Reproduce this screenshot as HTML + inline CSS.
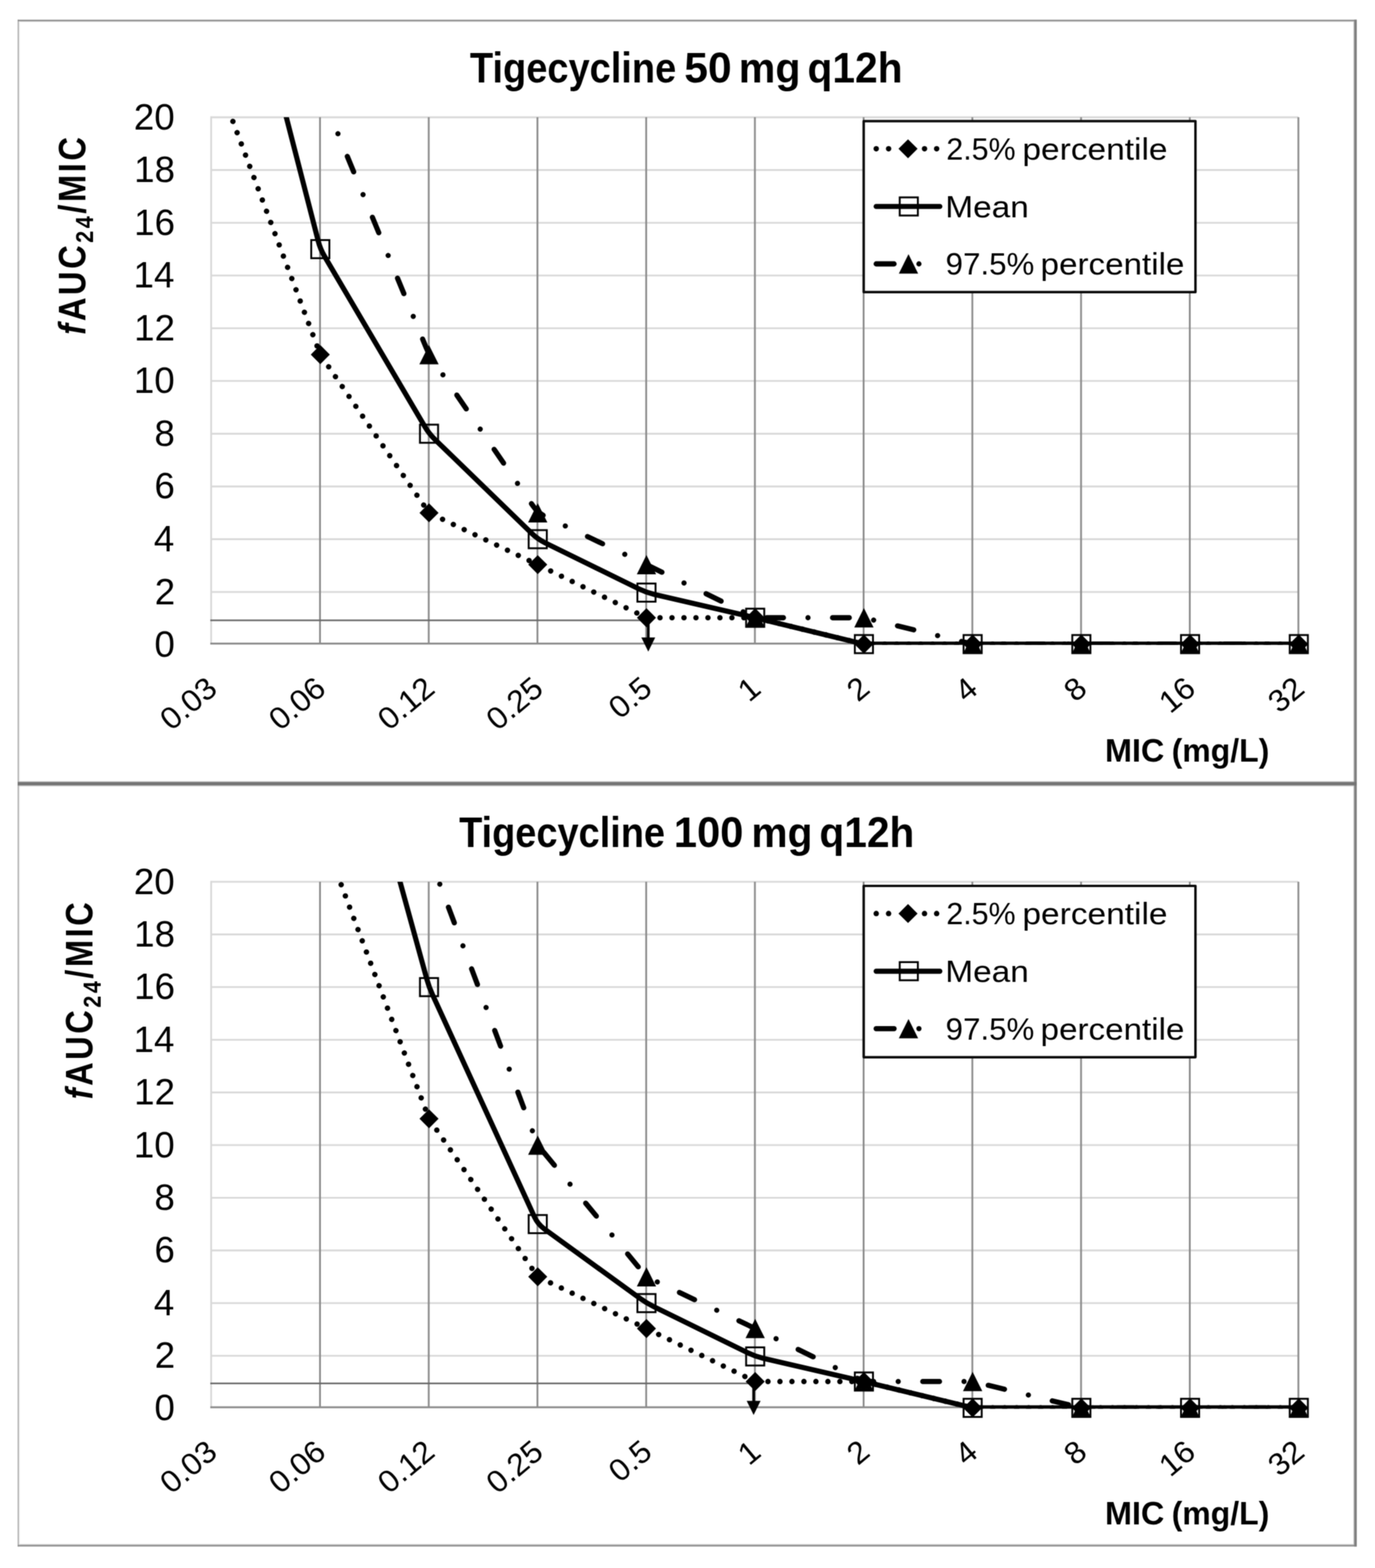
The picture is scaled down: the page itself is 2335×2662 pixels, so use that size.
<!DOCTYPE html>
<html lang="en"><head><meta charset="utf-8"><title>Tigecycline fAUC24/MIC</title>
<style>html,body{margin:0;padding:0;background:#ffffff;}svg{display:block;}</style></head>
<body><svg width="2335" height="2662" viewBox="0 0 2335 2662">
<defs><filter id="soft" x="0" y="0" width="2335" height="2662" filterUnits="userSpaceOnUse" color-interpolation-filters="sRGB"><feConvolveMatrix order="3" kernelMatrix="1 2 1 2 4 2 1 2 1" divisor="16" edgeMode="duplicate" preserveAlpha="true"/></filter></defs><g filter="url(#soft)">
<rect x="0" y="0" width="2335" height="2662" fill="#ffffff"/>
<g fill="none">
<rect x="30" y="33.5" width="2274" height="2592" fill="#fff"/>
<line x1="30" y1="36.5" x2="2300" y2="36.5" stroke="#d4d4d4" stroke-width="1.6"/>
<line x1="30" y1="2622.1" x2="2300" y2="2622.1" stroke="#d4d4d4" stroke-width="1.8"/>
<line x1="32.9" y1="36" x2="32.9" y2="2623" stroke="#ededed" stroke-width="1.4"/>
<line x1="2298.8" y1="36" x2="2298.8" y2="2623" stroke="#dcdcdc" stroke-width="1.6"/>
<line x1="32" y1="1326.9" x2="2300" y2="1326.9" stroke="#d6d6d6" stroke-width="1.6"/>
<line x1="32" y1="1334.4" x2="2300" y2="1334.4" stroke="#d6d6d6" stroke-width="1.6"/>
<line x1="31" y1="33.5" x2="31" y2="2625.5" stroke="#b0b0b0" stroke-width="2.2"/>
<line x1="30" y1="34.8" x2="2304" y2="34.8" stroke="#8e8e8e" stroke-width="2.6"/>
<line x1="30" y1="2624.2" x2="2304" y2="2624.2" stroke="#8e8e8e" stroke-width="2.8"/>
<line x1="2301.8" y1="33.5" x2="2301.8" y2="2625.5" stroke="#808080" stroke-width="4.6"/>
<line x1="30" y1="1330.6" x2="2304" y2="1330.6" stroke="#747474" stroke-width="6"/>
</g>
<g id="chart1">
<g stroke="#d9d9d9" stroke-width="3.1">
<line x1="358.6" y1="1004.95" x2="2204.9" y2="1004.95"/>
<line x1="358.6" y1="915.41" x2="2204.9" y2="915.41"/>
<line x1="358.6" y1="825.87" x2="2204.9" y2="825.87"/>
<line x1="358.6" y1="736.33" x2="2204.9" y2="736.33"/>
<line x1="358.6" y1="646.79" x2="2204.9" y2="646.79"/>
<line x1="358.6" y1="557.26" x2="2204.9" y2="557.26"/>
<line x1="358.6" y1="467.72" x2="2204.9" y2="467.72"/>
<line x1="358.6" y1="378.18" x2="2204.9" y2="378.18"/>
<line x1="358.6" y1="288.64" x2="2204.9" y2="288.64"/>
<line x1="358.6" y1="199.1" x2="2204.9" y2="199.1"/>
<line x1="358.6" y1="197.6" x2="358.6" y2="1094.1"/>
</g>
<g stroke="#8c8c8c" stroke-width="3.1">
<line x1="543.43" y1="199.1" x2="543.43" y2="1092.6"/>
<line x1="728.06" y1="199.1" x2="728.06" y2="1092.6"/>
<line x1="912.69" y1="199.1" x2="912.69" y2="1092.6"/>
<line x1="1097.32" y1="199.1" x2="1097.32" y2="1092.6"/>
<line x1="1281.95" y1="199.1" x2="1281.95" y2="1092.6"/>
<line x1="1466.58" y1="199.1" x2="1466.58" y2="1092.6"/>
<line x1="1651.21" y1="199.1" x2="1651.21" y2="1092.6"/>
<line x1="1835.84" y1="199.1" x2="1835.84" y2="1092.6"/>
<line x1="2020.47" y1="199.1" x2="2020.47" y2="1092.6"/>
<line x1="2204.9" y1="199.1" x2="2204.9" y2="1092.6"/>
</g>
<line x1="357.1" y1="1092.6" x2="2206.4" y2="1092.6" stroke="#8c8c8c" stroke-width="3.1"/>
<line x1="357.1" y1="1053.1" x2="1098" y2="1053.1" stroke="#686868" stroke-width="2.6"/>
<clipPath id="clip1"><rect x="358.6" y="199.1" width="1846.3" height="895.69"/></clipPath>
<g clip-path="url(#clip1)" fill="none" stroke="#000" stroke-linecap="round" stroke-linejoin="round">
<path d="M359.3 109.56 L539.02 588.92 Q543.93 602.03 551.86 613.56 L720.63 859.1 Q728.56 870.64 741.2 876.66 L913.19 958.61 L1085.24 1042.59 Q1097.82 1048.73 1111.82 1048.73 L1268.45 1048.73 Q1282.45 1048.73 1296.06 1052.03 L1453.47 1090.2 Q1467.08 1093.5 1481.08 1093.5 L1651.71 1093.5 L1836.34 1093.5 L2020.97 1093.5 L2205.6 1093.5" stroke-width="9.2" stroke-dasharray="0.01 20.34" stroke-dashoffset="-1.4"/>
<path d="M359.3 -293.36 L540.44 409.39 Q543.93 422.95 551.04 435.01 L721.45 724.27 Q728.56 736.33 738.61 746.08 L903.14 905.66 Q913.19 915.41 925.76 921.58 L1085.25 999.9 Q1097.82 1006.07 1111.46 1009.22 L1282.45 1048.73 L1453.47 1090.2 Q1467.08 1093.5 1481.08 1093.5 L1651.71 1093.5 L1836.34 1093.5 L2020.97 1093.5 L2205.6 1093.5" stroke-width="8.7"/>
<path d="M359.3 -785.83 L541.23 140.59 Q543.93 154.33 549.27 167.27 L723.22 589.08 Q728.56 602.03 736.49 613.56 L905.26 859.1 Q913.19 870.64 925.83 876.66 L1097.82 958.61 L1269.87 1042.59 Q1282.45 1048.73 1296.45 1048.73 L1453.08 1048.73 Q1467.08 1048.73 1480.69 1052.03 L1638.1 1090.2 Q1651.71 1093.5 1665.71 1093.5 L1836.34 1093.5 L2020.97 1093.5 L2205.6 1093.5" stroke-width="8.8" stroke-dasharray="28.4 41.7 0.01 41.7" stroke-dashoffset="39.8"/>
</g>
<g stroke="#000" stroke-width="3.2" stroke-linejoin="miter">
<path d="M543.93 585.83L560.13 602.03L543.93 618.23L527.73 602.03Z" fill="#000" stroke="none"/>
<path d="M728.56 854.44L744.76 870.64L728.56 886.84L712.36 870.64Z" fill="#000" stroke="none"/>
<path d="M913.19 942.41L929.39 958.61L913.19 974.81L896.99 958.61Z" fill="#000" stroke="none"/>
<path d="M1097.82 1032.53L1114.02 1048.73L1097.82 1064.93L1081.62 1048.73Z" fill="#000" stroke="none"/>
<path d="M1282.45 1032.53L1298.65 1048.73L1282.45 1064.93L1266.25 1048.73Z" fill="#000" stroke="none"/>
<path d="M1467.08 1077.3L1483.28 1093.5L1467.08 1109.7L1450.88 1093.5Z" fill="#000" stroke="none"/>
<path d="M1651.71 1077.3L1667.91 1093.5L1651.71 1109.7L1635.51 1093.5Z" fill="#000" stroke="none"/>
<path d="M1836.34 1077.3L1852.54 1093.5L1836.34 1109.7L1820.14 1093.5Z" fill="#000" stroke="none"/>
<path d="M2020.97 1077.3L2037.17 1093.5L2020.97 1109.7L2004.77 1093.5Z" fill="#000" stroke="none"/>
<path d="M2205.6 1077.3L2221.8 1093.5L2205.6 1109.7L2189.4 1093.5Z" fill="#000" stroke="none"/>
<rect x="528.53" y="407.55" width="30.8" height="30.8" fill="none"/>
<rect x="713.16" y="720.93" width="30.8" height="30.8" fill="none"/>
<rect x="897.79" y="900.01" width="30.8" height="30.8" fill="none"/>
<rect x="1082.42" y="990.67" width="30.8" height="30.8" fill="none"/>
<rect x="1267.05" y="1033.33" width="30.8" height="30.8" fill="none"/>
<rect x="1451.68" y="1078.1" width="30.8" height="30.8" fill="none"/>
<rect x="1636.31" y="1078.1" width="30.8" height="30.8" fill="none"/>
<rect x="1820.94" y="1078.1" width="30.8" height="30.8" fill="none"/>
<rect x="2005.57" y="1078.1" width="30.8" height="30.8" fill="none"/>
<rect x="2190.2" y="1078.1" width="30.8" height="30.8" fill="none"/>
<path d="M728.56 585.63L744.96 618.43L712.16 618.43Z" fill="#000" stroke="none"/>
<path d="M913.19 854.24L929.59 887.04L896.79 887.04Z" fill="#000" stroke="none"/>
<path d="M1097.82 942.21L1114.22 975.01L1081.42 975.01Z" fill="#000" stroke="none"/>
<path d="M1282.45 1032.33L1298.85 1065.13L1266.05 1065.13Z" fill="#000" stroke="none"/>
<path d="M1467.08 1032.33L1483.48 1065.13L1450.68 1065.13Z" fill="#000" stroke="none"/>
<path d="M1651.71 1077.1L1668.11 1109.9L1635.31 1109.9Z" fill="#000" stroke="none"/>
<path d="M1836.34 1077.1L1852.74 1109.9L1819.94 1109.9Z" fill="#000" stroke="none"/>
<path d="M2020.97 1077.1L2037.37 1109.9L2004.57 1109.9Z" fill="#000" stroke="none"/>
<path d="M2205.6 1077.1L2222 1109.9L2189.2 1109.9Z" fill="#000" stroke="none"/>
</g>
<line x1="1100.9" y1="1053.1" x2="1100.9" y2="1086.2" stroke="#000" stroke-width="4.6"/>
<path d="M1089.1 1082.2L1112.7 1082.2L1100.9 1106.2Z" fill="#000"/>
<rect x="1466.7" y="205.7" width="563.4" height="290.2" fill="#fff" stroke="#0c0c0c" stroke-width="4.2" stroke-linejoin="round"/>
<g fill="none" stroke="#000" stroke-linecap="round">
<circle cx="1488" cy="252.6" r="4.6" fill="#000" stroke="none"/>
<circle cx="1509" cy="252.6" r="4.6" fill="#000" stroke="none"/>
<circle cx="1570" cy="252.6" r="4.6" fill="#000" stroke="none"/>
<circle cx="1590.6" cy="252.6" r="4.6" fill="#000" stroke="none"/>
<line x1="1487.9" y1="350.5" x2="1596" y2="350.5" stroke-width="8.7"/>
<line x1="1487.9" y1="448" x2="1518.3" y2="448" stroke-width="8.8"/>
<circle cx="1560.5" cy="448" r="4.4" fill="#000" stroke="none"/>
</g>
<g stroke="#000" stroke-width="3.2">
<path d="M1542 236.4L1558.2 252.6L1542 268.8L1525.8 252.6Z" fill="#000" stroke="none"/>
<rect x="1527.9" y="335.1" width="30.8" height="30.8" fill="none"/>
<path d="M1542.8 431.6L1559.2 464.4L1526.4 464.4Z" fill="#000" stroke="none"/>
</g>
<text y="270.6" font-family='"Liberation Sans", sans-serif' font-size="52.1" font-weight="normal" fill="#000"><tspan x="1606.92" textLength="117.82" lengthAdjust="spacingAndGlyphs">2.5%</tspan> <tspan x="1736.28" textLength="246.43" lengthAdjust="spacingAndGlyphs">percentile</tspan></text>
<text y="368.5" font-family='"Liberation Sans", sans-serif' font-size="52.1" font-weight="normal" fill="#000"><tspan x="1605.2" textLength="142.01" lengthAdjust="spacingAndGlyphs">Mean</tspan></text>
<text y="466.3" font-family='"Liberation Sans", sans-serif' font-size="52.1" font-weight="normal" fill="#000"><tspan x="1605.85" textLength="150.6" lengthAdjust="spacingAndGlyphs">97.5%</tspan> <tspan x="1767.12" textLength="244.27" lengthAdjust="spacingAndGlyphs">percentile</tspan></text>
<text y="140.3" font-family='"Liberation Sans", sans-serif' font-size="71.6" font-weight="bold" fill="#000"><tspan x="798.1" textLength="350.21" lengthAdjust="spacingAndGlyphs">Tigecycline</tspan> <tspan x="1161.97" textLength="80.5" lengthAdjust="spacingAndGlyphs">50</tspan> <tspan x="1254.52" textLength="104.86" lengthAdjust="spacingAndGlyphs">mg</tspan> <tspan x="1371.3" textLength="161.45" lengthAdjust="spacingAndGlyphs">q12h</tspan></text>
<text y="1292.5" font-family='"Liberation Sans", sans-serif' font-size="55.3" font-weight="bold" fill="#000"><tspan x="1876.42" textLength="100.74" lengthAdjust="spacingAndGlyphs">MIC</tspan> <tspan x="1989.76" textLength="165.81" lengthAdjust="spacingAndGlyphs">(mg/L)</tspan></text>
<text transform="translate(262.3 1114.9)" font-family='"Liberation Sans", sans-serif' font-size="62.4" font-weight="normal" fill="#000">0</text>
<text transform="translate(262.8 1025.7)" font-family='"Liberation Sans", sans-serif' font-size="62.4" font-weight="normal" fill="#000">2</text>
<text transform="translate(261.3 935.91)" font-family='"Liberation Sans", sans-serif' font-size="62.4" font-weight="normal" fill="#000">4</text>
<text transform="translate(262.3 846.37)" font-family='"Liberation Sans", sans-serif' font-size="62.4" font-weight="normal" fill="#000">6</text>
<text transform="translate(262.3 756.83)" font-family='"Liberation Sans", sans-serif' font-size="62.4" font-weight="normal" fill="#000">8</text>
<text transform="translate(227.3 667.29)" font-family='"Liberation Sans", sans-serif' font-size="62.4" font-weight="normal" fill="#000">10</text>
<text transform="translate(227.8 578.01)" font-family='"Liberation Sans", sans-serif' font-size="62.4" font-weight="normal" fill="#000">12</text>
<text transform="translate(226.8 488.22)" font-family='"Liberation Sans", sans-serif' font-size="62.4" font-weight="normal" fill="#000">14</text>
<text transform="translate(227.8 398.68)" font-family='"Liberation Sans", sans-serif' font-size="62.4" font-weight="normal" fill="#000">16</text>
<text transform="translate(227.8 309.14)" font-family='"Liberation Sans", sans-serif' font-size="62.4" font-weight="normal" fill="#000">18</text>
<text transform="translate(227.3 219.6)" font-family='"Liberation Sans", sans-serif' font-size="62.4" font-weight="normal" fill="#000">20</text>
<text transform="translate(144.6 568.14) rotate(-90) scale(0.8574 1)" font-family='"Liberation Sans", sans-serif' font-size="64.8" font-weight="bold" letter-spacing="5.0" fill="#000"><tspan font-style="italic">f</tspan>AUC<tspan font-size="42.77" dy="13.61">24</tspan><tspan dy="-13.61">/MIC</tspan></text>
<text transform="matrix(0.7890 -0.6621 0.6428 0.7660 290.8 1242.04)" font-family='"Liberation Sans", sans-serif' font-size="52.8" fill="#000">0.03</text>
<text transform="matrix(0.7890 -0.6621 0.6428 0.7660 475.43 1242.04)" font-family='"Liberation Sans", sans-serif' font-size="52.8" fill="#000">0.06</text>
<text transform="matrix(0.7890 -0.6621 0.6428 0.7660 660.46 1241.71)" font-family='"Liberation Sans", sans-serif' font-size="52.8" fill="#000">0.12</text>
<text transform="matrix(0.7890 -0.6621 0.6428 0.7660 844.69 1242.04)" font-family='"Liberation Sans", sans-serif' font-size="52.8" fill="#000">0.25</text>
<text transform="matrix(0.7890 -0.6621 0.6428 0.7660 1052.6 1222.51)" font-family='"Liberation Sans", sans-serif' font-size="52.8" fill="#000">0.5</text>
<text transform="matrix(0.7890 -0.6621 0.6428 0.7660 1271.95 1193.38)" font-family='"Liberation Sans", sans-serif' font-size="52.8" fill="#000">1</text>
<text transform="matrix(0.7890 -0.6621 0.6428 0.7660 1456.97 1193.04)" font-family='"Liberation Sans", sans-serif' font-size="52.8" fill="#000">2</text>
<text transform="matrix(0.7890 -0.6621 0.6428 0.7660 1640.42 1194.04)" font-family='"Liberation Sans", sans-serif' font-size="52.8" fill="#000">4</text>
<text transform="matrix(0.7890 -0.6621 0.6428 0.7660 1825.84 1193.38)" font-family='"Liberation Sans", sans-serif' font-size="52.8" fill="#000">8</text>
<text transform="matrix(0.7890 -0.6621 0.6428 0.7660 1987.19 1212.91)" font-family='"Liberation Sans", sans-serif' font-size="52.8" fill="#000">16</text>
<text transform="matrix(0.7890 -0.6621 0.6428 0.7660 2172.21 1212.58)" font-family='"Liberation Sans", sans-serif' font-size="52.8" fill="#000">32</text>
</g>
<g id="chart2">
<g stroke="#d9d9d9" stroke-width="3.1">
<line x1="358.6" y1="2301.7" x2="2204.9" y2="2301.7"/>
<line x1="358.6" y1="2212.29" x2="2204.9" y2="2212.29"/>
<line x1="358.6" y1="2122.88" x2="2204.9" y2="2122.88"/>
<line x1="358.6" y1="2033.47" x2="2204.9" y2="2033.47"/>
<line x1="358.6" y1="1944.06" x2="2204.9" y2="1944.06"/>
<line x1="358.6" y1="1854.64" x2="2204.9" y2="1854.64"/>
<line x1="358.6" y1="1765.23" x2="2204.9" y2="1765.23"/>
<line x1="358.6" y1="1675.82" x2="2204.9" y2="1675.82"/>
<line x1="358.6" y1="1586.41" x2="2204.9" y2="1586.41"/>
<line x1="358.6" y1="1497" x2="2204.9" y2="1497"/>
<line x1="358.6" y1="1495.5" x2="358.6" y2="2390.6"/>
</g>
<g stroke="#8c8c8c" stroke-width="3.1">
<line x1="543.43" y1="1497" x2="543.43" y2="2389.1"/>
<line x1="728.06" y1="1497" x2="728.06" y2="2389.1"/>
<line x1="912.69" y1="1497" x2="912.69" y2="2389.1"/>
<line x1="1097.32" y1="1497" x2="1097.32" y2="2389.1"/>
<line x1="1281.95" y1="1497" x2="1281.95" y2="2389.1"/>
<line x1="1466.58" y1="1497" x2="1466.58" y2="2389.1"/>
<line x1="1651.21" y1="1497" x2="1651.21" y2="2389.1"/>
<line x1="1835.84" y1="1497" x2="1835.84" y2="2389.1"/>
<line x1="2020.47" y1="1497" x2="2020.47" y2="2389.1"/>
<line x1="2204.9" y1="1497" x2="2204.9" y2="2389.1"/>
</g>
<line x1="357.1" y1="2389.1" x2="2206.4" y2="2389.1" stroke="#8c8c8c" stroke-width="3.1"/>
<line x1="357.1" y1="2348.6" x2="1279" y2="2348.6" stroke="#686868" stroke-width="2.6"/>
<clipPath id="clip2"><rect x="358.6" y="1497" width="1846.3" height="894.41"/></clipPath>
<g clip-path="url(#clip2)" fill="none" stroke="#000" stroke-linecap="round" stroke-linejoin="round">
<path d="M359.3 424.07 L541.35 1393.83 Q543.93 1407.59 548.85 1420.7 L723.64 1886.24 Q728.56 1899.35 736.5 1910.88 L905.25 2156.05 Q913.19 2167.58 925.83 2173.6 L1097.82 2255.43 L1269.87 2339.29 Q1282.45 2345.42 1296.45 2345.42 L1453.08 2345.42 Q1467.08 2345.42 1480.69 2348.72 L1638.1 2386.83 Q1651.71 2390.13 1665.71 2390.13 L1836.34 2390.13 L2020.97 2390.13 L2205.6 2390.13" stroke-width="9.2" stroke-dasharray="0.01 20.34" stroke-dashoffset="-2.5"/>
<path d="M359.3 -380.63 L542.08 991.36 Q543.93 1005.24 547.65 1018.74 L724.84 1662.32 Q728.56 1675.82 734.4 1688.55 L907.35 2065.45 Q913.19 2078.17 924.52 2086.4 L1086.49 2204.06 Q1097.82 2212.29 1110.39 2218.45 L1269.88 2296.65 Q1282.45 2302.82 1296.09 2305.97 L1467.08 2345.42 L1638.1 2386.83 Q1651.71 2390.13 1665.71 2390.13 L1836.34 2390.13 L2020.97 2390.13 L2205.6 2390.13" stroke-width="8.7"/>
<path d="M359.3 -1364.16 L542.56 499.54 Q543.93 513.48 546.63 527.21 L725.86 1438.56 Q728.56 1452.29 733.48 1465.4 L908.27 1930.95 Q913.19 1944.06 922.11 1954.85 L1088.9 2156.79 Q1097.82 2167.58 1110.46 2173.6 L1282.45 2255.43 L1454.5 2339.29 Q1467.08 2345.42 1481.08 2345.42 L1637.71 2345.42 Q1651.71 2345.42 1665.32 2348.72 L1822.73 2386.83 Q1836.34 2390.13 1850.34 2390.13 L2020.97 2390.13 L2205.6 2390.13" stroke-width="8.8" stroke-dasharray="28.4 41.7 0.01 41.7" stroke-dashoffset="-30.1"/>
</g>
<g stroke="#000" stroke-width="3.2" stroke-linejoin="miter">
<path d="M728.56 1883.15L744.76 1899.35L728.56 1915.55L712.36 1899.35Z" fill="#000" stroke="none"/>
<path d="M913.19 2151.38L929.39 2167.58L913.19 2183.78L896.99 2167.58Z" fill="#000" stroke="none"/>
<path d="M1097.82 2239.23L1114.02 2255.43L1097.82 2271.63L1081.62 2255.43Z" fill="#000" stroke="none"/>
<path d="M1282.45 2329.22L1298.65 2345.42L1282.45 2361.62L1266.25 2345.42Z" fill="#000" stroke="none"/>
<path d="M1467.08 2329.22L1483.28 2345.42L1467.08 2361.62L1450.88 2345.42Z" fill="#000" stroke="none"/>
<path d="M1651.71 2373.93L1667.91 2390.13L1651.71 2406.33L1635.51 2390.13Z" fill="#000" stroke="none"/>
<path d="M1836.34 2373.93L1852.54 2390.13L1836.34 2406.33L1820.14 2390.13Z" fill="#000" stroke="none"/>
<path d="M2020.97 2373.93L2037.17 2390.13L2020.97 2406.33L2004.77 2390.13Z" fill="#000" stroke="none"/>
<path d="M2205.6 2373.93L2221.8 2390.13L2205.6 2406.33L2189.4 2390.13Z" fill="#000" stroke="none"/>
<rect x="713.16" y="1660.42" width="30.8" height="30.8" fill="none"/>
<rect x="897.79" y="2062.77" width="30.8" height="30.8" fill="none"/>
<rect x="1082.42" y="2196.89" width="30.8" height="30.8" fill="none"/>
<rect x="1267.05" y="2287.42" width="30.8" height="30.8" fill="none"/>
<rect x="1451.68" y="2330.02" width="30.8" height="30.8" fill="none"/>
<rect x="1636.31" y="2374.73" width="30.8" height="30.8" fill="none"/>
<rect x="1820.94" y="2374.73" width="30.8" height="30.8" fill="none"/>
<rect x="2005.57" y="2374.73" width="30.8" height="30.8" fill="none"/>
<rect x="2190.2" y="2374.73" width="30.8" height="30.8" fill="none"/>
<path d="M913.19 1927.66L929.59 1960.46L896.79 1960.46Z" fill="#000" stroke="none"/>
<path d="M1097.82 2151.18L1114.22 2183.98L1081.42 2183.98Z" fill="#000" stroke="none"/>
<path d="M1282.45 2239.03L1298.85 2271.83L1266.05 2271.83Z" fill="#000" stroke="none"/>
<path d="M1467.08 2329.02L1483.48 2361.82L1450.68 2361.82Z" fill="#000" stroke="none"/>
<path d="M1651.71 2329.02L1668.11 2361.82L1635.31 2361.82Z" fill="#000" stroke="none"/>
<path d="M1836.34 2373.73L1852.74 2406.53L1819.94 2406.53Z" fill="#000" stroke="none"/>
<path d="M2020.97 2373.73L2037.37 2406.53L2004.57 2406.53Z" fill="#000" stroke="none"/>
<path d="M2205.6 2373.73L2222 2406.53L2189.2 2406.53Z" fill="#000" stroke="none"/>
</g>
<line x1="1279.8" y1="2348.6" x2="1279.8" y2="2382.3" stroke="#000" stroke-width="4.6"/>
<path d="M1268 2378.3L1291.6 2378.3L1279.8 2402.3Z" fill="#000"/>
<rect x="1466.7" y="1504" width="563.4" height="290.8" fill="#fff" stroke="#0c0c0c" stroke-width="4.2" stroke-linejoin="round"/>
<g fill="none" stroke="#000" stroke-linecap="round">
<circle cx="1488" cy="1550.9" r="4.6" fill="#000" stroke="none"/>
<circle cx="1509" cy="1550.9" r="4.6" fill="#000" stroke="none"/>
<circle cx="1570" cy="1550.9" r="4.6" fill="#000" stroke="none"/>
<circle cx="1590.6" cy="1550.9" r="4.6" fill="#000" stroke="none"/>
<line x1="1487.9" y1="1648.8" x2="1596" y2="1648.8" stroke-width="8.7"/>
<line x1="1487.9" y1="1746.3" x2="1518.3" y2="1746.3" stroke-width="8.8"/>
<circle cx="1560.5" cy="1746.3" r="4.4" fill="#000" stroke="none"/>
</g>
<g stroke="#000" stroke-width="3.2">
<path d="M1542 1534.7L1558.2 1550.9L1542 1567.1L1525.8 1550.9Z" fill="#000" stroke="none"/>
<rect x="1527.9" y="1633.4" width="30.8" height="30.8" fill="none"/>
<path d="M1542.8 1729.9L1559.2 1762.7L1526.4 1762.7Z" fill="#000" stroke="none"/>
</g>
<text y="1568.9" font-family='"Liberation Sans", sans-serif' font-size="52.1" font-weight="normal" fill="#000"><tspan x="1606.92" textLength="117.82" lengthAdjust="spacingAndGlyphs">2.5%</tspan> <tspan x="1736.28" textLength="246.43" lengthAdjust="spacingAndGlyphs">percentile</tspan></text>
<text y="1666.8" font-family='"Liberation Sans", sans-serif' font-size="52.1" font-weight="normal" fill="#000"><tspan x="1605.2" textLength="142.01" lengthAdjust="spacingAndGlyphs">Mean</tspan></text>
<text y="1764.6" font-family='"Liberation Sans", sans-serif' font-size="52.1" font-weight="normal" fill="#000"><tspan x="1605.85" textLength="150.6" lengthAdjust="spacingAndGlyphs">97.5%</tspan> <tspan x="1767.12" textLength="244.27" lengthAdjust="spacingAndGlyphs">percentile</tspan></text>
<text y="1437.8" font-family='"Liberation Sans", sans-serif' font-size="71.6" font-weight="bold" fill="#000"><tspan x="779.7" textLength="349.7" lengthAdjust="spacingAndGlyphs">Tigecycline</tspan> <tspan x="1144.24" textLength="118.28" lengthAdjust="spacingAndGlyphs">100</tspan> <tspan x="1276.07" textLength="103.65" lengthAdjust="spacingAndGlyphs">mg</tspan> <tspan x="1391.61" textLength="161.14" lengthAdjust="spacingAndGlyphs">q12h</tspan></text>
<text y="2588.2" font-family='"Liberation Sans", sans-serif' font-size="55.3" font-weight="bold" fill="#000"><tspan x="1876.42" textLength="100.74" lengthAdjust="spacingAndGlyphs">MIC</tspan> <tspan x="1989.76" textLength="165.81" lengthAdjust="spacingAndGlyphs">(mg/L)</tspan></text>
<text transform="translate(262.3 2411.4)" font-family='"Liberation Sans", sans-serif' font-size="62.4" font-weight="normal" fill="#000">0</text>
<text transform="translate(262.8 2322.45)" font-family='"Liberation Sans", sans-serif' font-size="62.4" font-weight="normal" fill="#000">2</text>
<text transform="translate(261.3 2232.79)" font-family='"Liberation Sans", sans-serif' font-size="62.4" font-weight="normal" fill="#000">4</text>
<text transform="translate(262.3 2143.38)" font-family='"Liberation Sans", sans-serif' font-size="62.4" font-weight="normal" fill="#000">6</text>
<text transform="translate(262.3 2053.97)" font-family='"Liberation Sans", sans-serif' font-size="62.4" font-weight="normal" fill="#000">8</text>
<text transform="translate(227.3 1964.56)" font-family='"Liberation Sans", sans-serif' font-size="62.4" font-weight="normal" fill="#000">10</text>
<text transform="translate(227.8 1875.39)" font-family='"Liberation Sans", sans-serif' font-size="62.4" font-weight="normal" fill="#000">12</text>
<text transform="translate(226.8 1785.73)" font-family='"Liberation Sans", sans-serif' font-size="62.4" font-weight="normal" fill="#000">14</text>
<text transform="translate(227.8 1696.32)" font-family='"Liberation Sans", sans-serif' font-size="62.4" font-weight="normal" fill="#000">16</text>
<text transform="translate(227.8 1606.91)" font-family='"Liberation Sans", sans-serif' font-size="62.4" font-weight="normal" fill="#000">18</text>
<text transform="translate(227.3 1517.5)" font-family='"Liberation Sans", sans-serif' font-size="62.4" font-weight="normal" fill="#000">20</text>
<text transform="translate(157.3 1866.14) rotate(-90) scale(0.8545 1)" font-family='"Liberation Sans", sans-serif' font-size="64.8" font-weight="bold" letter-spacing="5.0" fill="#000"><tspan font-style="italic">f</tspan>AUC<tspan font-size="42.77" dy="13.61">24</tspan><tspan dy="-13.61">/MIC</tspan></text>
<text transform="matrix(0.7890 -0.6621 0.6428 0.7660 290.8 2538.04)" font-family='"Liberation Sans", sans-serif' font-size="52.8" fill="#000">0.03</text>
<text transform="matrix(0.7890 -0.6621 0.6428 0.7660 475.43 2538.04)" font-family='"Liberation Sans", sans-serif' font-size="52.8" fill="#000">0.06</text>
<text transform="matrix(0.7890 -0.6621 0.6428 0.7660 660.46 2537.71)" font-family='"Liberation Sans", sans-serif' font-size="52.8" fill="#000">0.12</text>
<text transform="matrix(0.7890 -0.6621 0.6428 0.7660 844.69 2538.04)" font-family='"Liberation Sans", sans-serif' font-size="52.8" fill="#000">0.25</text>
<text transform="matrix(0.7890 -0.6621 0.6428 0.7660 1052.6 2518.51)" font-family='"Liberation Sans", sans-serif' font-size="52.8" fill="#000">0.5</text>
<text transform="matrix(0.7890 -0.6621 0.6428 0.7660 1271.95 2489.38)" font-family='"Liberation Sans", sans-serif' font-size="52.8" fill="#000">1</text>
<text transform="matrix(0.7890 -0.6621 0.6428 0.7660 1456.97 2489.04)" font-family='"Liberation Sans", sans-serif' font-size="52.8" fill="#000">2</text>
<text transform="matrix(0.7890 -0.6621 0.6428 0.7660 1640.42 2490.04)" font-family='"Liberation Sans", sans-serif' font-size="52.8" fill="#000">4</text>
<text transform="matrix(0.7890 -0.6621 0.6428 0.7660 1825.84 2489.38)" font-family='"Liberation Sans", sans-serif' font-size="52.8" fill="#000">8</text>
<text transform="matrix(0.7890 -0.6621 0.6428 0.7660 1987.19 2508.91)" font-family='"Liberation Sans", sans-serif' font-size="52.8" fill="#000">16</text>
<text transform="matrix(0.7890 -0.6621 0.6428 0.7660 2172.21 2508.58)" font-family='"Liberation Sans", sans-serif' font-size="52.8" fill="#000">32</text>
</g>
</g></svg></body></html>
